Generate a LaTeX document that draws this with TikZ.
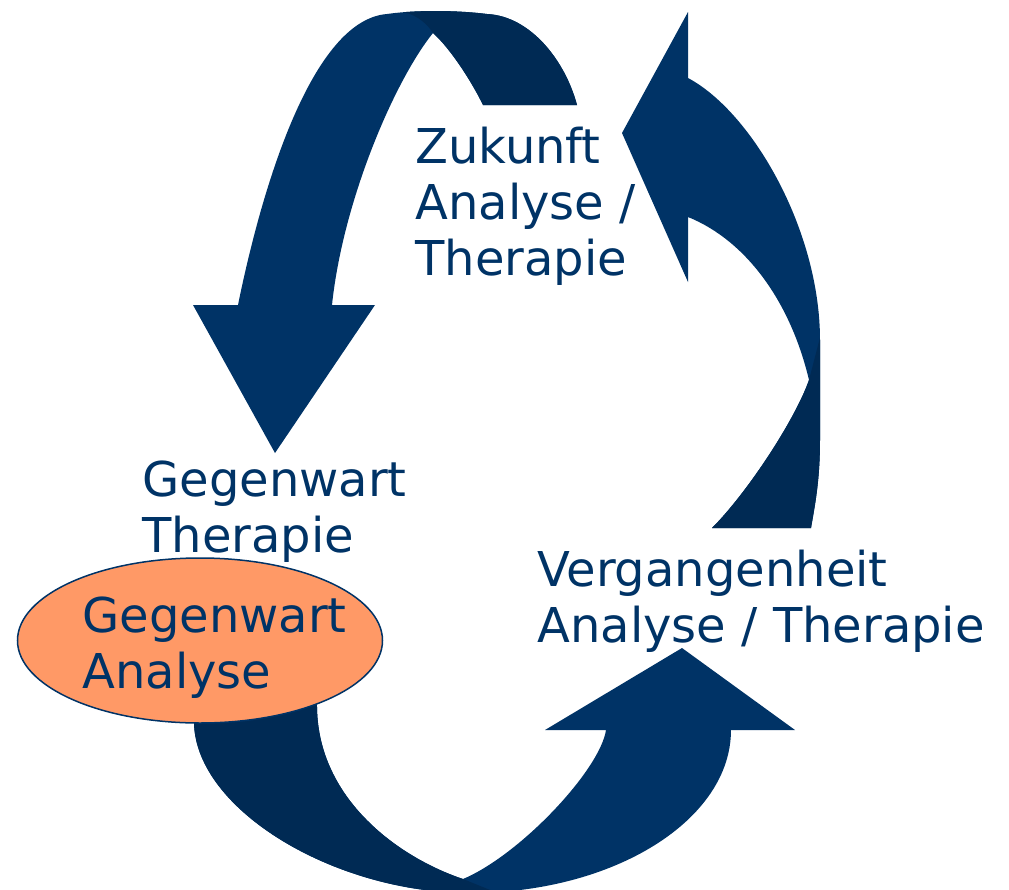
\documentclass[tikz,border=0pt]{standalone}
\usepackage{fontspec}
\setmainfont{DejaVu Sans}
\usetikzlibrary{shapes.geometric}
\definecolor{arrowblue}{HTML}{003366}
\definecolor{arrowdark}{HTML}{002A54}
\definecolor{textblue}{HTML}{003366}
\definecolor{orangefill}{HTML}{FF9966}
\newcommand\ArrTopPath{(193,305) -- (238,305) .. controls (262,187) and (312,20) .. (387,14) .. controls (415,10) and (455,10) .. (487,14) .. controls (530,16) and (565,60) .. (577,105) -- (483,105) .. controls (472,82) and (450,48) .. (433,33) .. controls (395,80) and (343,200) .. (332,305) -- (375,305) -- (275,453) -- cycle}
\newcommand\ArrRightPath{(622,133) -- (688,12) -- (688,78) .. controls (752,112) and (820,230) .. (820,340) -- (820,440) .. controls (820,480) and (815,505) .. (811,528) -- (712,528) .. controls (747,493) and (795,420) .. (809,380) .. controls (790,300) and (745,240) .. (688,217) -- (688,282) -- cycle}
\newcommand\ArrBottomPath{(192,690) -- (194,723) .. controls (196,810) and (335,893) .. (470,893) .. controls (614,893) and (731,820) .. (731,730) -- (795,730) -- (682,648) -- (545,730) -- (606,730) .. controls (600,770) and (520,855) .. (463,879) .. controls (400,858) and (318,800) .. (317,707) -- (315,690) -- cycle}
\begin{document}
\begin{tikzpicture}[x=0.5pt,y=-0.5pt,
  txtlbl/.style={anchor=base west, inner sep=0, align=left, text=textblue, font=\fontsize{24}{28}\selectfont},
  oval/.style={ellipse, draw=arrowblue, fill=orangefill, line width=0.75pt, inner sep=0, minimum width=182.5pt, minimum height=82.5pt}]
\useasboundingbox (0,0) rectangle (1009,890);
\clip (0,0) rectangle (1009,890);
% top-left arrow
\fill[arrowblue] \ArrTopPath;
\begin{scope}
  \clip \ArrTopPath;
  \fill[arrowdark] (398,0) -- (403,12) .. controls (418,15) and (428,25) .. (433,33) -- (433,140) -- (620,140) -- (620,0) -- cycle;
\end{scope}
% right arrow
\fill[arrowblue] \ArrRightPath;
\begin{scope}
  \clip \ArrRightPath;
  \fill[arrowdark] (660,545) -- (809,380) -- (822,330) -- (850,330) -- (850,545) -- cycle;
\end{scope}
% bottom arrow
\fill[arrowblue] \ArrBottomPath;
\begin{scope}
  \clip \ArrBottomPath;
  \fill[arrowdark] (100,600) -- (400,600) -- (463,879) -- (527,905) -- (100,905) -- cycle;
\end{scope}
% labels (anchor = baseline of the last line)
\node[txtlbl] (zukunft) at (415,275) {Zukunft\\Analyse /\\Therapie};
\node[txtlbl] (gegenwartT) at (142,552) {Gegenwart\\Therapie};
\node[txtlbl] (vergangenheit) at (537,642) {Vergangenheit\\Analyse / Therapie};
\node[oval] (ovalGA) at (200,640.5) {};
\node[txtlbl] (gegenwartA) at (82,688) {Gegenwart\\Analyse};
\end{tikzpicture}
\end{document}
